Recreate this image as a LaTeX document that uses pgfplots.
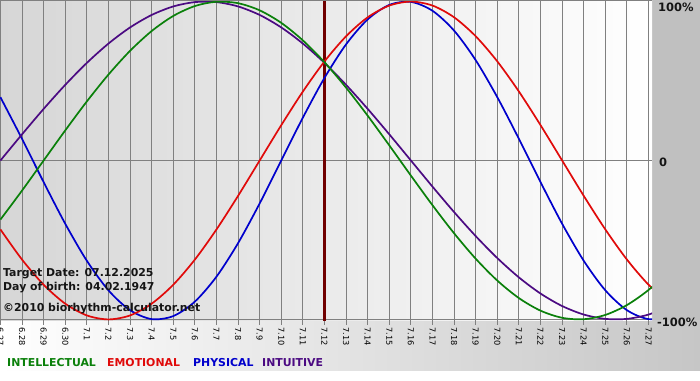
\documentclass[border=0pt]{standalone}
\usepackage{pgfplots}
\pgfplotsset{compat=1.18}
\usepackage{fontspec}
\setmainfont{DejaVu Sans}
\definecolor{cInt}{HTML}{0A800A}
\definecolor{cEmo}{HTML}{E00A0A}
\definecolor{cPhy}{HTML}{0000CC}
\definecolor{cItu}{HTML}{4B0A82}
\definecolor{gridc}{HTML}{808080}
\definecolor{bgl}{HTML}{D6D6D6}
\definecolor{rightg}{HTML}{C0C0C0}
\definecolor{stripg}{HTML}{C6C6C6}
\definecolor{tline}{HTML}{700000}
\definecolor{txt}{HTML}{151515}

\pgfplotstableread{
d v
0 0.398
1 0.136
2 -0.136
3 -0.398
4 -0.631
5 -0.817
6 -0.942
7 -0.998
8 -0.979
9 -0.888
10 -0.731
11 -0.520
12 -0.270
13 0
14 0.270
15 0.520
16 0.731
17 0.888
18 0.979
19 0.998
20 0.942
21 0.817
22 0.631
23 0.398
24 0.136
25 -0.136
26 -0.398
27 -0.631
28 -0.817
29 -0.942
30 -0.998
31 -0.979
}\physical

\pgfplotstableread{
d v
0 -0.4339
1 -0.6235
2 -0.7818
3 -0.9010
4 -0.9749
5 -1
6 -0.9749
7 -0.9010
8 -0.7818
9 -0.6235
10 -0.4339
11 -0.2225
12 0
13 0.2225
14 0.4339
15 0.6235
16 0.7818
17 0.9010
18 0.9749
19 1
20 0.9749
21 0.9010
22 0.7818
23 0.6235
24 0.4339
25 0.2225
26 0
27 -0.2225
28 -0.4339
29 -0.6235
30 -0.7818
31 -0.9010
}\emotional

\pgfplotstableread{
d v
0 -0.3717
1 -0.1893
2 0
3 0.1893
4 0.3717
5 0.5406
6 0.6901
7 0.8146
8 0.9096
9 0.9718
10 0.9989
11 0.9898
12 0.9450
13 0.8660
14 0.7557
15 0.6182
16 0.4582
17 0.2817
18 0.0951
19 -0.0951
20 -0.2817
21 -0.4582
22 -0.6182
23 -0.7557
24 -0.8660
25 -0.9450
26 -0.9898
27 -0.9989
28 -0.9718
29 -0.9096
30 -0.8146
31 -0.6901
}\intellectual

\pgfplotstableread{
d v
0 0
1 0.1646
2 0.3247
3 0.4759
4 0.6142
5 0.7357
6 0.8372
7 0.9158
8 0.9694
9 0.9966
10 0.9966
11 0.9694
12 0.9158
13 0.8372
14 0.7357
15 0.6142
16 0.4759
17 0.3247
18 0.1646
19 0
20 -0.1646
21 -0.3247
22 -0.4759
23 -0.6142
24 -0.7357
25 -0.8372
26 -0.9158
27 -0.9694
28 -0.9966
29 -0.9966
30 -0.9694
31 -0.9158
}\intuitive

\begin{document}
\begin{tikzpicture}[x=1pt,y=1pt]
\useasboundingbox (0,0) rectangle (700,380);
\fill[white] (0,0) rectangle (700,380);
\shade[left color=white, right color=stripg] (0,10) rectangle (700,60);
\fill[rightg] (652,60) rectangle (700,380);
\begin{axis}[
  at={(0pt,380pt)}, anchor=north west,
  scale only axis, width=652pt, height=321pt,
  xmin=-0.02, xmax=30.16, ymin=-1.01, ymax=1.01,
  axis line style={draw=none},
  axis background/.style={shade, left color=bgl, right color=white},
  xtick={0,...,30},
  xticklabels={6.27,6.28,6.29,6.30,7.1,7.2,7.3,7.4,7.5,7.6,7.7,7.8,7.9,7.10,7.11,7.12,7.13,7.14,7.15,7.16,7.17,7.18,7.19,7.20,7.21,7.22,7.23,7.24,7.25,7.26,7.27},
  ytick={-1,0}, yticklabels={},
  xmajorgrids, ymajorgrids,
  grid style={gridc, line width=1pt},
  tick pos=left, tick align=outside,
  major tick length=4pt,
  xtick style={gridc, line width=1pt},
  ytick style={draw=none},
  xticklabel style={rotate=-90, anchor=west, inner sep=0pt, text=black, font=\fontsize{8.2}{9}\selectfont},
  xticklabel shift=2.5pt,
]
\addplot[tline, line width=2.2pt, forget plot] coordinates {(15,-1.1) (15,1.1)};
\addplot[cPhy, line width=1.7pt, smooth] table[x=d, y=v] {\physical};
\addplot[cItu, line width=1.7pt, smooth] table[x=d, y=v] {\intuitive};
\addplot[cEmo, line width=1.7pt, smooth] table[x=d, y=v] {\emotional};
\addplot[cInt, line width=1.7pt, smooth] table[x=d, y=v] {\intellectual};
\end{axis}
\draw[gridc, line width=1pt] (0,379.5) -- (652,379.5);
\begin{scope}[every node/.style={inner sep=0pt, anchor=base west, text=txt, font=\fontsize{10.9}{12}\selectfont\bfseries}]
\node at (3,104) {Target Date: 07.12.2025};
\node at (3,90) {Day of birth: 04.02.1947};
\node at (3,69) {©2010 biorhythm-calculator.net};
\node[text=cInt] at (7,14) {INTELLECTUAL};
\node[text=cEmo] at (107,14) {EMOTIONAL};
\node[text=cPhy] at (193,14) {PHYSICAL};
\node[text=cItu] at (262,14) {INTUITIVE};
\end{scope}
\begin{scope}[every node/.style={inner sep=0pt, anchor=west, text=txt, font=\fontsize{11.5}{12}\selectfont\bfseries}]
\node at (658,372.5) {100\%};
\node at (659,218) {0};
\node at (657,57.5) {-100\%};
\end{scope}
\end{tikzpicture}
\end{document}
